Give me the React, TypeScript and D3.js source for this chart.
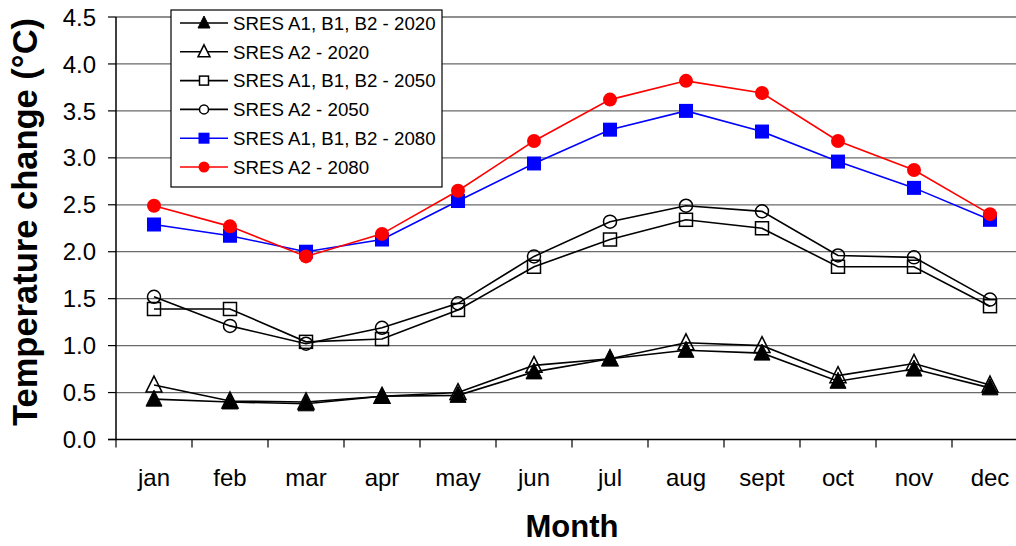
import React from 'react';
import * as d3 from 'd3';

// month categories and the six scenario series (°C change)
const months = ['jan', 'feb', 'mar', 'apr', 'may', 'jun', 'jul', 'aug', 'sept', 'oct', 'nov', 'dec'];
const a1b1b2_2020 = [0.43, 0.40, 0.38, 0.46, 0.47, 0.72, 0.86, 0.95, 0.92, 0.62, 0.75, 0.55];
const a2_2020 = [0.58, 0.41, 0.40, 0.46, 0.50, 0.79, 0.86, 1.03, 1.00, 0.68, 0.81, 0.58];
const a1b1b2_2050 = [1.39, 1.39, 1.04, 1.07, 1.38, 1.84, 2.13, 2.34, 2.25, 1.84, 1.84, 1.42];
const a2_2050 = [1.52, 1.21, 1.02, 1.19, 1.45, 1.95, 2.32, 2.49, 2.43, 1.96, 1.94, 1.49];
const a1b1b2_2080 = [2.29, 2.17, 2.00, 2.13, 2.54, 2.94, 3.30, 3.50, 3.28, 2.96, 2.68, 2.34];
const a2_2080 = [2.49, 2.27, 1.95, 2.19, 2.65, 3.18, 3.62, 3.82, 3.69, 3.18, 2.87, 2.40];
const yTicks = [0, 0.5, 1.0, 1.5, 2.0, 2.5, 3.0, 3.5, 4.0, 4.5];

const series = [
  { name: 'SRES A1, B1, B2 - 2020', values: a1b1b2_2020, color: '#000', marker: 'triangle', filled: true },
  { name: 'SRES A2 - 2020', values: a2_2020, color: '#000', marker: 'triangle', filled: false },
  { name: 'SRES A1, B1, B2 - 2050', values: a1b1b2_2050, color: '#000', marker: 'square', filled: false },
  { name: 'SRES A2 - 2050', values: a2_2050, color: '#000', marker: 'circle', filled: false },
  { name: 'SRES A1, B1, B2 - 2080', values: a1b1b2_2080, color: '#0000ff', marker: 'square', filled: true },
  { name: 'SRES A2 - 2080', values: a2_2080, color: '#ff0000', marker: 'circle', filled: true },
];

const W = 1016, H = 546;
const left = 116, right = 1028, top = 17, bottom = 439.5;
const font = 'Liberation Sans, Arial, Helvetica, sans-serif';

// open markers are hollow (see-through) like the Excel original
function Marker({ type, filled, color, x, y, s, bg }: any) {
  const fill = filled ? color : bg;
  const sw = filled ? 0 : 1.5;
  if (type === 'triangle') {
    const h = s / 2;
    return <path d={`M${x},${y - h - 1}L${x + h},${y + h - 1}L${x - h},${y + h - 1}Z`} fill={fill} stroke={color} strokeWidth={filled ? 1 : 1.5} />;
  }
  if (type === 'square') {
    const h = s / 2;
    return <rect x={x - h} y={y - h} width={s} height={s} fill={fill} stroke={color} strokeWidth={sw} />;
  }
  return <circle cx={x} cy={y} r={s / 2} fill={fill} stroke={color} strokeWidth={sw} />;
}

export default function App() {
  const x = d3.scaleBand<string>().domain(months).range([left, right]).padding(0);
  const y = d3.scaleLinear().domain([0, 4.5]).range([bottom, top]);
  const cx = (m: string) => (x(m) as number) + x.bandwidth() / 2;

  const line = d3.line<number>()
    .x((d, i) => cx(months[i]))
    .y(d => y(d));

  const plotSize = (s: any) => (s.marker === 'triangle' ? 16 : s.filled ? 14 : 13);
  const legSize = (s: any) => (s.marker === 'triangle' ? 12 : s.filled ? 11 : 9);

  const legX = 171, legY = 10, legW = 271, legH = 177, rowStep = 28.8, row0 = 23;

  return (
    <svg width={W} height={H} style={{ position: 'absolute', left: 0, top: 0 }} fontFamily={font}>
      <rect width={W} height={H} fill="#fff" />

      {/* grid */}
      {yTicks.filter(t => t > 0).map(t => (
        <line key={t} x1={left} x2={right} y1={y(t)} y2={y(t)} stroke="#6a6a6a" strokeWidth={1.3} />
      ))}

      {/* y axis */}
      <line x1={left} x2={left} y1={top} y2={bottom} stroke="#000" strokeWidth={1.5} />
      {yTicks.map(t => (
        <g key={t}>
          <line x1={left - 8} x2={left} y1={y(t)} y2={y(t)} stroke="#000" strokeWidth={1.2} />
          <text x={96} y={y(t)} dy="0.36em" textAnchor="end" fontSize={24} fill="#000">{t.toFixed(1)}</text>
        </g>
      ))}

      {/* x axis */}
      <line x1={left - 8} x2={right} y1={bottom} y2={bottom} stroke="#000" strokeWidth={1.5} />
      {months.map(m => (
        <g key={m}>
          <line x1={x(m) as number} x2={x(m) as number} y1={bottom} y2={bottom + 8} stroke="#000" strokeWidth={1.2} />
          <text x={cx(m)} y={486} textAnchor="middle" fontSize={24} fill="#000">{m}</text>
        </g>
      ))}

      {/* titles */}
      <text x={(left + right) / 2} y={537} textAnchor="middle" fontSize={31} fontWeight="bold">Month</text>
      <text transform={`translate(37, 222) rotate(-90)`} textAnchor="middle" fontSize={34.5} fontWeight="bold">
        Temperature change (°C)
      </text>

      {/* series */}
      {series.map(s => (
        <g key={s.name}>
          <path d={line(s.values) as string} fill="none" stroke={s.color} strokeWidth={1.6} />
          {s.values.map((v, i) => (
            <Marker key={i} type={s.marker} filled={s.filled} color={s.color} x={cx(months[i])} y={y(v)} s={plotSize(s)} bg="none" />
          ))}
        </g>
      ))}

      {/* legend */}
      <rect x={legX} y={legY} width={legW} height={legH} fill="#fff" stroke="#000" strokeWidth={1.2} />
      {series.map((s, i) => {
        const ry = legY + row0 - 10 + i * rowStep;
        return (
          <g key={s.name}>
            <line x1={180} x2={228} y1={ry} y2={ry} stroke={s.color} strokeWidth={1.6} />
            <Marker type={s.marker} filled={s.filled} color={s.color} x={204} y={ry} s={legSize(s)} bg="#fff" />
            <text x={233} y={ry} dy="0.36em" fontSize={18.7} fill="#000">{s.name}</text>
          </g>
        );
      })}
    </svg>
  );
}
